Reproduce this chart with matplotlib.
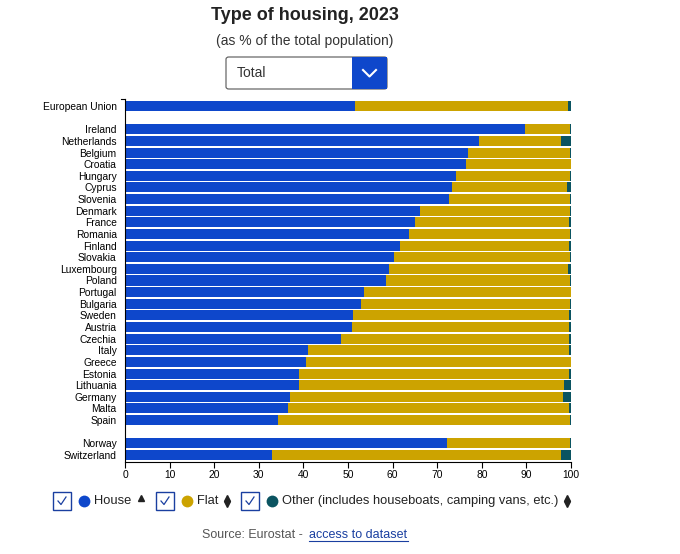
import matplotlib.pyplot as plt
import numpy as np
from matplotlib.patches import Rectangle, FancyBboxPatch
from matplotlib.lines import Line2D

plt.rcParams['font.family'] = ['Liberation Sans', 'DejaVu Sans']

countries = ['European Union',
             'Ireland', 'Netherlands', 'Belgium', 'Croatia', 'Hungary', 'Cyprus',
             'Slovenia', 'Denmark', 'France', 'Romania', 'Finland', 'Slovakia',
             'Luxembourg', 'Poland', 'Portugal', 'Bulgaria', 'Sweden', 'Austria',
             'Czechia', 'Italy', 'Greece', 'Estonia', 'Lithuania', 'Germany',
             'Malta', 'Spain',
             'Norway', 'Switzerland']
house = [51.6,
         89.7, 79.4, 76.9, 76.5, 74.2, 73.3, 72.6, 66.2, 65.0, 63.7, 61.7, 60.3,
         59.2, 58.6, 53.6, 53.0, 51.1, 50.9, 48.5, 41.0, 40.6, 39.1, 39.1, 37.0,
         36.6, 34.3,
         72.3, 33.0]
flat = [47.7,
        10.1, 18.4, 22.8, 23.5, 25.6, 25.7, 27.2, 33.6, 34.5, 36.1, 37.8, 39.5,
        40.1, 41.2, 46.3, 46.8, 48.4, 48.6, 51.0, 58.5, 59.4, 60.4, 59.3, 61.2,
        62.9, 65.5,
        27.5, 64.8]
other = [0.7,
         0.2, 2.2, 0.3, 0.0, 0.2, 1.0, 0.2, 0.2, 0.5, 0.2, 0.5, 0.2,
         0.7, 0.2, 0.1, 0.2, 0.5, 0.5, 0.5, 0.5, 0.0, 0.5, 1.6, 1.8,
         0.5, 0.2,
         0.2, 2.2]
# row positions: gaps after EU and before non-EU countries
ypos = [0] + list(range(2, 28)) + [29, 30]

c_house = '#0E47CB'
c_flat = '#CCA300'
c_other = '#0B5461'

W, H = 680, 554
fig = plt.figure(figsize=(6.8, 5.54), dpi=100)


def px(x, y):
    return x / W, 1 - y / H


ax = fig.add_axes([125 / W, 1 - 462 / H, 446 / W, 363 / H])
h = np.array(house)
f = np.array(flat)
o = np.array(other)
ax.barh(ypos, h, height=0.86, color=c_house)
ax.barh(ypos, f, left=h, height=0.86, color=c_flat)
ax.barh(ypos, o, left=h + f, height=0.86, color=c_other)

ax.set_xlim(0, 100)
ax.set_ylim(30.6, -0.6)
ax.set_yticks(ypos)
ax.set_yticklabels(countries, fontsize=7.4)
ax.tick_params(axis='y', length=0, pad=6)
ax.set_xticks(range(0, 101, 10))
ax.tick_params(axis='x', labelsize=7.4, length=4, width=0.8, pad=2)
for s in ['top', 'right']:
    ax.spines[s].set_visible(False)
ax.spines['left'].set_linewidth(0.8)
ax.spines['bottom'].set_linewidth(0.8)
ax.plot([-1.0, 0], [-0.6, -0.6], color='black', lw=0.8, clip_on=False)

# title and subtitle
fig.text(*px(305, 16), 'Type of housing, 2023', ha='center', va='center',
         fontsize=13, fontweight='bold', color='#222222')
fig.text(*px(305, 41), '(as % of the total population)', ha='center',
         va='center', fontsize=10, color='#333333')

# dropdown
fig.add_artist(FancyBboxPatch(px(226, 89), 161 / W, 32 / H,
                              boxstyle='round,pad=0,rounding_size=0.004',
                              transform=fig.transFigure, facecolor='white',
                              edgecolor='#555555', lw=0.8))
fig.add_artist(Rectangle(px(352, 89), 35 / W, 32 / H, transform=fig.transFigure,
                         facecolor=c_house, edgecolor='none'))
fig.text(*px(237, 73), 'Total', ha='left', va='center', fontsize=10,
         color='#333333')
fig.add_artist(Line2D([363 / W, 369.5 / W, 376 / W],
                      [1 - 70 / H, 1 - 76.5 / H, 1 - 70 / H],
                      transform=fig.transFigure, color='white', lw=1.5))


# legend
def checkbox(x, y):
    fig.add_artist(Rectangle(px(x, y + 9), 18 / W, 18 / H,
                             transform=fig.transFigure, facecolor='white',
                             edgecolor='#1A3FA0', lw=1.0))
    fig.add_artist(Line2D([(x + 5) / W, (x + 8) / W, (x + 13) / W],
                          [1 - y / H, 1 - (y + 3.5) / H, 1 - (y - 4) / H],
                          transform=fig.transFigure, color='#1A3FA0', lw=0.9))


def dot(x, y, color):
    fig.add_artist(Line2D([x / W], [1 - y / H], marker='o', markersize=8.5,
                          markerfacecolor=color, markeredgecolor='none',
                          transform=fig.transFigure, lw=0))


def updown(x, y):
    fig.add_artist(Line2D([x / W], [1 - (y - 3) / H], marker='^', markersize=4.5,
                          color='#222222', transform=fig.transFigure, lw=0))
    fig.add_artist(Line2D([x / W], [1 - (y + 3) / H], marker='v', markersize=4.5,
                          color='#222222', transform=fig.transFigure, lw=0))


ly = 501
checkbox(53, ly)
dot(84, ly, c_house)
fig.text(*px(94, ly), 'House', ha='left', va='center', fontsize=9.3, color='#222222')
fig.add_artist(Line2D([141 / W], [1 - (ly - 3) / H], marker='^', markersize=5,
                      color='#222222', transform=fig.transFigure, lw=0))
checkbox(156, ly)
dot(187, ly, c_flat)
fig.text(*px(197, ly), 'Flat', ha='left', va='center', fontsize=9.3, color='#222222')
updown(227, ly)
checkbox(241, ly)
dot(272, ly, c_other)
fig.text(*px(282, ly), 'Other (includes houseboats, camping vans, etc.)',
         ha='left', va='center', fontsize=9.3, color='#222222')
updown(567, ly)

# source line
fig.text(*px(202, 535), 'Source: Eurostat - ', ha='left', va='center',
         fontsize=9, color='#555555')
fig.text(*px(309, 535), 'access to dataset', ha='left', va='center',
         fontsize=9, color='#1A3FA0')
fig.add_artist(Line2D([309 / W, 408 / W], [1 - 541 / H, 1 - 541 / H],
                      transform=fig.transFigure, color='#1A3FA0', lw=0.8))

fig.savefig('out.png', dpi=100)
